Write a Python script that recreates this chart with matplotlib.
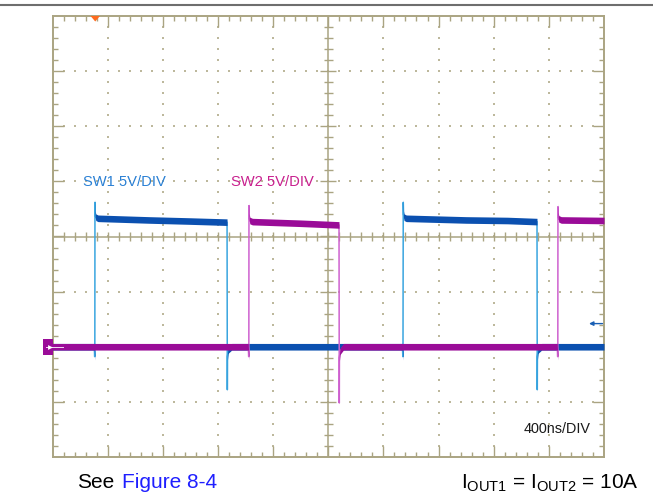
#!/usr/bin/env python3
"""Scope capture: SW1 / SW2 switch-node waveforms, 400 ns/div."""

import matplotlib

matplotlib.use("Agg")

import matplotlib.pyplot as plt
import numpy as np
from matplotlib.collections import LineCollection
from matplotlib.patches import Polygon, Rectangle


# scope settings
NS_PER_DIV = 400
V_PER_DIV = 5
GROUND_DIV = -2  # both channels sit two divisions below centre

# SW1 (blue channel): time in ns, voltage in V
sw1_time_ns = [0, 303, 306, 307, 308, 310, 314, 330, 700, 1000, 1266,
               1268, 1269, 1274, 1300, 2538, 2541, 2542, 2544, 2546,
               2550, 2566, 3000, 3300, 3514, 3516, 3517, 3522, 3548,
               4000]
sw1_volts = [0, 0, -0.9, -0.4, 13.1, 12.0, 11.75, 11.65, 11.5, 11.4, 11.3,
             -3.9, -0.9, -0.3, 0, 0, -0.9, -0.4, 13.1, 12.0,
             11.75, 11.65, 11.5, 11.45, 11.35, -3.9, -0.9, -0.3, 0,
             0]

# SW2 (magenta channel)
sw2_time_ns = [0, 1420, 1423, 1424, 1425, 1427, 1431, 1450, 1800, 2078,
               2080, 2081, 2086, 2110, 3661, 3664, 3665, 3666, 3668,
               3672, 3690, 4000]
sw2_volts = [0, 0, -0.9, -0.4, 12.8, 11.8, 11.45, 11.35, 11.2, 11.05,
             -5.1, -1.0, -0.4, 0, 0, -0.9, -0.4, 12.7, 11.9,
             11.6, 11.5, 11.45]

TRIGGER_NS = 310
TRIGGER_LEVEL_V = 2.1

GRID = "#aaa482"
DOT = "#bdb89c"

W, H = 653, 497
AX_L, AX_R, AX_T, AX_B = 52.5, 604.0, 16.0, 457.0


def to_div(volts):
    return GROUND_DIV + np.asarray(volts, dtype=float) / V_PER_DIV


def main() -> None:
    plt.rcParams["font.family"] = ["Liberation Sans", "DejaVu Sans"]

    fig = plt.figure(figsize=(W / 100, H / 100), dpi=100)
    ax = fig.add_axes([AX_L / W, 1 - AX_B / H, (AX_R - AX_L) / W, (AX_B - AX_T) / H])
    xmax = 10 * NS_PER_DIV
    ax.set_xlim(0, xmax)
    ax.set_ylim(-4, 4)
    ax.set_xticks([])
    ax.set_yticks([])
    for sp in ax.spines.values():
        sp.set_color(GRID)
        sp.set_linewidth(1.4)

    px_x = xmax / (AX_R - AX_L)
    px_y = 8 / (AX_B - AX_T)

    # dotted major grid
    minor_y = np.arange(-4, 4.001, 0.2)[1:-1]
    minor_x = np.arange(0, xmax + 1, NS_PER_DIV / 5)[1:-1]
    dx, dy = [], []
    for i in range(1, 10):
        if i == 5:
            continue
        dx += [i * NS_PER_DIV] * len(minor_y)
        dy += list(minor_y)
    for j in (-3, -2, -1, 1, 2, 3):
        dx += list(minor_x)
        dy += [j] * len(minor_x)
    ax.scatter(dx, dy, s=2.2, marker="s", color=DOT, linewidths=0, zorder=1)

    # centre cross
    ax.axhline(0, color=GRID, lw=1.1, zorder=1)
    ax.axvline(xmax / 2, color=GRID, lw=1.1, zorder=1)

    segs = []
    for k, x in enumerate(minor_x):
        major = (k + 1) % 5 == 0
        segs.append([(x, -4), (x, -4 + (11 if major else 5) * px_y)])
        segs.append([(x, 4), (x, 4 - (11 if major else 5) * px_y)])
        segs.append([(x, -4.5 * px_y), (x, 4.5 * px_y)])
    for k, y in enumerate(minor_y):
        major = (k + 1) % 5 == 0
        segs.append([(0, y), ((11 if major else 5) * px_x, y)])
        segs.append([(xmax, y), (xmax - (11 if major else 5) * px_x, y)])
        half = 8 if major else 4.5
        segs.append([(xmax / 2 - half * px_x, y), (xmax / 2 + half * px_x, y)])
    ax.add_collection(LineCollection(segs, colors=GRID, linewidths=1.0, zorder=1))

    # traces
    band = 0.06
    t1, y1 = np.asarray(sw1_time_ns, float), to_div(sw1_volts)
    t2, y2 = np.asarray(sw2_time_ns, float), to_div(sw2_volts)
    ax.plot(t1, y1, color="#3aa6e0", lw=1.1, zorder=3)
    ax.fill_between(t1, y1 - band, y1 + band, color="#0b50b0", lw=0, zorder=4)
    ax.plot(t2, y2, color="#cf62d0", lw=1.1, zorder=5)
    ax.fill_between(t2, y2 - band, y2 + band, color="#9a0c98", lw=0, zorder=6)

    # ground marker on the left
    ax.add_patch(Rectangle((-9.3 * px_x, GROUND_DIV - 7.8 * px_y), 9.3 * px_x, 15.6 * px_y,
                           facecolor="#9a0c98", edgecolor="none", clip_on=False, zorder=7))
    ax.plot([-7 * px_x, 10 * px_x], [GROUND_DIV, GROUND_DIV], color="#f4d8f4", lw=0.7,
            clip_on=False, zorder=8)
    ax.plot([-3 * px_x], [GROUND_DIV], marker=">", ms=3.5, color="white", mew=0,
            clip_on=False, zorder=8)

    # trigger position and level
    ax.add_patch(Polygon([(TRIGGER_NS - 4.7 * px_x, 4), (TRIGGER_NS + 4.7 * px_x, 4),
                          (TRIGGER_NS, 4 - 5.5 * px_y)], closed=True,
                         facecolor="#ff6a1e", edgecolor="none", clip_on=False, zorder=7))
    ylev = to_div(TRIGGER_LEVEL_V)
    ax.annotate("", xy=(xmax - 15 * px_x, ylev), xytext=(xmax - 1.5 * px_x, ylev),
                arrowprops=dict(arrowstyle="-|>", color="#1a5fb4", lw=1.0,
                                mutation_scale=6, shrinkA=0, shrinkB=0), zorder=7)

    # labels
    def fx(x):
        return x / W

    def fy(y):
        return 1 - y / H

    fig.text(fx(83.3), fy(185.7), "SW1 5V/DIV", color="#2a80d4", fontsize=10.6, va="baseline")
    fig.text(fx(230.7), fy(185.7), "SW2 5V/DIV", color="#c8208e", fontsize=10.6, va="baseline")
    fig.text(fx(523.3), fy(432.6), "400ns/DIV", color="#1a1a1a", fontsize=10.4, va="baseline")
    fig.text(fx(77.3), fy(488.3), "See", color="black", fontsize=15, va="baseline")
    fig.text(fx(122.3), fy(488.3), "Figure 8-4", color="#1f1fff", fontsize=15, va="baseline")
    fig.text(fx(639), fy(488.3),
             r"$\mathregular{I_{OUT1}}$ = $\mathregular{I_{OUT2}}$ = 10A",
             color="black", fontsize=15, ha="right", va="baseline")

    # top rule
    fig.add_artist(plt.Line2D([0, 1], [fy(4.7), fy(4.7)], color="#6e6e6e", lw=1.5))

    fig.savefig("out.png", dpi=100)
    plt.close(fig)


if __name__ == "__main__":
    main()
